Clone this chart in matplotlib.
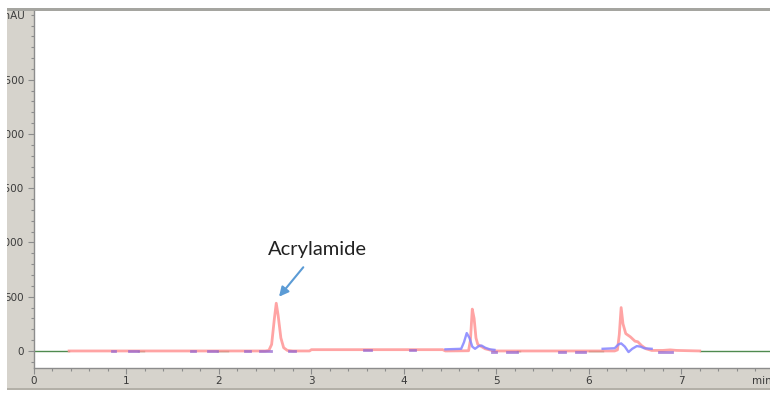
import numpy as np
import matplotlib.pyplot as plt
from matplotlib.patches import Rectangle
from matplotlib.ticker import MultipleLocator

# --- 数据：从色谱图读取的点 (时间 min, 信号 mAU) ---
red_t = [0.38, 2.50, 2.54, 2.57, 2.60, 2.62, 2.64, 2.67, 2.70, 2.74, 2.80, 2.98, 3.00,
         4.42, 4.45, 4.70, 4.72, 4.74, 4.76, 4.78, 4.80, 4.84, 4.88, 4.95, 5.00,
         6.28, 6.31, 6.33, 6.35, 6.37, 6.40, 6.45, 6.50, 6.53, 6.57, 6.62, 6.68,
         6.80, 6.88, 6.95, 7.20]
red_y = [0, 0, 5, 60, 300, 440, 330, 120, 30, 5, 0, 0, 12,
         12, 0, 2, 100, 386, 300, 120, 60, 40, 20, 5, 0,
         0, 10, 150, 400, 250, 160, 130, 90, 85, 50, 20, 5,
         5, 10, 5, 0]

blue_t1 = [4.45, 4.62, 4.65, 4.68, 4.71, 4.74, 4.77, 4.81, 4.84, 4.88, 4.93, 4.98]
blue_y1 = [15, 20, 80, 165, 120, 40, 20, 45, 50, 30, 15, 10]
blue_t2 = [6.15, 6.28, 6.32, 6.35, 6.39, 6.43, 6.47, 6.52, 6.56, 6.60, 6.68]
blue_y2 = [20, 25, 60, 70, 40, -10, 20, 45, 40, 25, 20]

# 积分基线标记段 (起, 止)
purple_segs = [(0.84, 0.88), (1.03, 1.13), (1.70, 1.74), (1.88, 1.98), (2.28, 2.34),
               (2.44, 2.56), (2.76, 2.82), (3.57, 3.65), (4.07, 4.12), (4.95, 5.00),
               (5.12, 5.22), (5.68, 5.74), (5.86, 5.96), (6.76, 6.90)]
purple_lvl = [0, 0, 0, 0, 0, 0, 0, 10, 10, -5, -5, -5, -5, -5]
green_segs = [(0.0, 0.38), (1.13, 1.19), (1.98, 2.10), (5.22, 5.26), (6.0, 6.15), (7.20, 7.96)]

y_ticks = [0, 500, 1000, 1500, 2000, 2500]
x_ticks = [0, 1, 2, 3, 4, 5, 6, 7]

W, H = 770, 393
fig = plt.figure(figsize=(W / 100, H / 100), dpi=100)
fig.patch.set_facecolor('white')

panel = '#d6d3cc'
fig.patches.append(Rectangle((7 / W, 1 - 388 / H), (W - 7) / W, 378 / H,
                             transform=fig.transFigure, facecolor=panel, edgecolor='none', zorder=0))
fig.patches.append(Rectangle((7 / W, 1 - 390 / H), (W - 7) / W, 2.5 / H,
                             transform=fig.transFigure, facecolor='#b3b0a8', edgecolor='none', zorder=0))
fig.patches.append(Rectangle((7 / W, 1 - 11 / H), (W - 7) / W, 3 / H,
                             transform=fig.transFigure, facecolor='#a5a5a0', edgecolor='none', zorder=0))

ax = fig.add_axes([34 / W, 1 - 368 / H, (W - 34) / W, 357 / H])
ax.set_zorder(1)
ax.set_facecolor('white')
ax.set_xlim(0, 7.96)
ax.set_ylim(-157, 3134)

# 基线 / 曲线
for a, b in green_segs:
    ax.plot([a, b], [0, 0], color='#4f8a4f', lw=1.0, zorder=2)
ax.plot(red_t, red_y, color='#ff9494', lw=2.0, alpha=0.85, zorder=3)
ax.plot(blue_t1, blue_y1, color='#8484ff', lw=1.7, alpha=0.85, zorder=4)
ax.plot(blue_t2, blue_y2, color='#8484ff', lw=1.7, alpha=0.85, zorder=4)
for (a, b), lv in zip(purple_segs, purple_lvl):
    ax.plot([a, b], [lv, lv], color='#9466d0', lw=2.0, alpha=0.75, zorder=5)

ax.annotate('Acrylamide', xy=(2.65, 500), xytext=(3.07, 935),
            ha='center', va='center', fontsize=14.5, family='Lato', color='#222222',
            arrowprops=dict(arrowstyle='-|>', color='#5b9bd5', lw=1.5,
                            mutation_scale=14, shrinkA=6, shrinkB=0))

# 坐标轴样式
for s in ['top', 'right']:
    ax.spines[s].set_visible(False)
for s in ['left', 'bottom']:
    ax.spines[s].set_color('#8c8c8c')
    ax.spines[s].set_linewidth(1.0)
ax.set_xticks(x_ticks)
ax.set_yticks(y_ticks)
ax.xaxis.set_minor_locator(MultipleLocator(0.2))
ax.yaxis.set_minor_locator(MultipleLocator(100))
ax.tick_params(which='major', length=4, width=0.8, color='#8c8c8c', labelsize=7.5,
               labelcolor='#3a3a3a', pad=2)
ax.tick_params(which='minor', length=2.5, width=0.8, color='#8c8c8c')
ax.tick_params(axis='y', pad=3)

fig.text(25 / W, 1 - 16 / H, 'mAU', ha='right', va='center', fontsize=7.5, color='#3a3a3a')
fig.text(752 / W, 1 - 381 / H, 'min', ha='left', va='center', fontsize=7.5, color='#3a3a3a')

# 左侧裁切
fig.patches.append(Rectangle((0, 0), 7 / W, 1, transform=fig.transFigure,
                             facecolor='white', edgecolor='none', zorder=10))

fig.savefig('out.png', dpi=100)
